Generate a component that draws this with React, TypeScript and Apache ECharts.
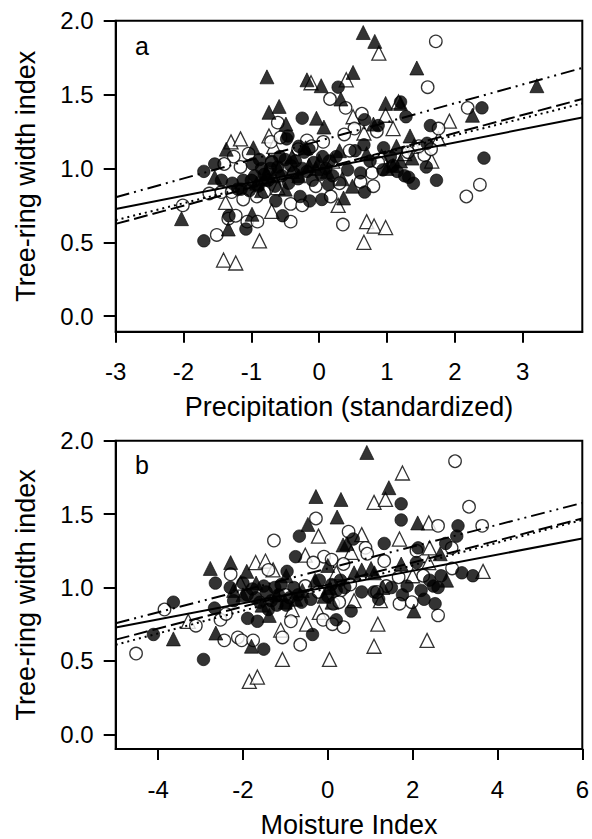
import React, { useEffect, useRef } from "react";
import * as echarts from "echarts";

type Pt = [number, number];

// Tick labels
const precipTicks = [-3, -2, -1, 0, 1, 2, 3];
const moistureTicks = [-4, -2, 0, 2, 4, 6];
const ringTicks = [0, 0.5, 1, 1.5, 2];

// Panel a: precipitation (standardized) vs tree-ring width index
const precipFilledCircle: Pt[] = [
  [0.28, 1.55], [1.2, 1.45], [2.4, 1.41], [1.28, 1.35], [-0.25, 1.34], [0.67, 1.33], [1.64, 1.29], [0.87, 1.29],
  [-0.46, 1.22], [0.66, 1.16], [1.59, 1.17], [2.43, 1.07], [1.58, 1.01], [1.73, 0.92], [1.39, 0.9], [1.26, 0.95],
  [0.94, 0.99], [0.67, 0.84], [0.61, 0.97], [0.04, 0.79], [-0.14, 0.78], [-0.28, 0.81], [-0.54, 0.68], [-0.64, 0.78],
  [-1.08, 0.59], [-1.33, 0.68], [-1.7, 0.51], [-1.7, 0.98], [-1.54, 1.03], [-1.44, 0.92], [-1.28, 0.9], [-1.15, 0.86],
  [-1.03, 0.85], [-0.98, 1.03], [-0.81, 0.96], [-0.61, 1.01], [-0.5, 1.06], [-0.42, 1.02], [-0.31, 0.93], [-0.22, 1.11],
  [-0.08, 1.04], [0.03, 0.96], [0.14, 0.89], [0.25, 1.08], [0.42, 0.99], [0.53, 1.12], [0.95, 1.14], [1.09, 1.02],
  [-0.9, 0.88], [-0.85, 1.0], [-0.75, 0.92], [-0.7, 1.05], [-0.55, 0.95], [-0.45, 0.9], [-0.35, 1.05], [-0.18, 0.98],
  [-0.1, 0.92], [0.1, 1.0], [0.2, 0.95], [-1.12, 0.92], [-1.2, 0.86], [0.75, 1.05], [1.05, 1.08], [1.15, 0.98],
  [1.32, 0.94], [-0.48, 1.2], [-0.3, 1.15], [-0.15, 1.13], [-0.95, 0.95], [-0.65, 0.88], [-0.58, 1.08], [-0.38, 0.97],
  [-0.25, 1.0], [0.05, 1.08], [0.15, 1.05], [-1.0, 0.92], [-0.88, 1.06], [-0.72, 1.0],
];
const precipOpenCircle: Pt[] = [
  [1.72, 1.86], [1.6, 1.55], [0.16, 1.47], [0.39, 1.41], [0.63, 1.37], [2.19, 1.41], [1.76, 1.27], [0.85, 1.25],
  [0.52, 1.27], [-0.61, 1.31], [0.37, 1.23], [-0.18, 1.19], [0.06, 1.18], [-0.71, 1.18], [-0.57, 1.21], [-1.04, 1.1],
  [-1.26, 1.08], [-1.4, 1.03], [-1.16, 1.01], [1.55, 1.09], [1.65, 1.13], [1.47, 1.15], [2.17, 0.81], [2.37, 0.89],
  [0.8, 0.88], [0.61, 0.91], [0.17, 0.81], [0.35, 0.62], [-0.42, 0.64], [-0.42, 0.76], [-0.25, 0.75], [-1.06, 0.64],
  [-0.91, 0.64], [-1.34, 0.66], [-1.23, 0.68], [-1.51, 0.55], [-2.01, 0.75], [-1.62, 0.83], [-1.44, 0.84], [-1.29, 0.84],
  [-1.12, 0.79], [-0.92, 0.81], [-0.81, 0.84], [-0.11, 1.15], [-0.31, 1.13], [0.87, 1.04], [0.78, 0.97], [1.31, 1.11],
  [-0.7, 1.04], [0.45, 1.12], [-0.05, 0.88], [0.3, 0.9],
];
const precipFilledTriangle: Pt[] = [
  [0.65, 1.92], [0.82, 1.86], [1.44, 1.68], [3.21, 1.56], [-0.77, 1.62], [-0.18, 1.6], [0.03, 1.56], [0.5, 1.65],
  [0.32, 1.47], [-0.74, 1.38], [-0.59, 1.42], [-0.49, 1.3], [-0.04, 1.34], [0.07, 1.28], [0.98, 1.44], [1.2, 1.44],
  [2.26, 1.36], [1.34, 1.22], [-1.37, 1.13], [-0.97, 1.14], [1.14, 1.15], [0.34, 0.93], [0.49, 0.88], [0.36, 0.8],
  [-2.03, 0.66], [-1.34, 0.59], [-0.99, 0.69], [-1.54, 0.94], [1.37, 1.07], [1.09, 1.02], [-0.81, 0.93], [-0.85, 0.85],
  [-0.78, 0.97], [-0.6, 1.0], [-0.4, 1.08], [-0.3, 0.95], [0.0, 1.05], [0.3, 1.12], [1.0, 1.0], [1.2, 1.05],
  [-0.05, 1.0], [0.7, 1.1], [-0.2, 1.14], [0.8, 1.3], [-0.92, 0.9], [-0.68, 0.95], [-0.15, 1.02], [0.12, 0.98],
  [-0.5, 0.86],
];
const precipOpenTriangle: Pt[] = [
  [0.88, 1.78], [0.4, 1.6], [-0.12, 1.58], [0.5, 1.35], [0.98, 1.36], [1.17, 1.45], [1.09, 1.27], [1.92, 1.32],
  [1.76, 1.2], [-1.3, 1.18], [-1.16, 1.2], [-0.74, 1.22], [-0.67, 1.15], [0.66, 1.24], [1.66, 1.05], [1.4, 1.15],
  [1.26, 1.1], [-1.38, 0.77], [-0.7, 0.71], [0.28, 0.75], [-0.88, 0.51], [-1.41, 0.38], [-1.23, 0.36], [0.66, 0.5],
  [0.7, 0.64], [0.81, 0.61], [0.98, 0.6], [-0.61, 0.87], [0.92, 1.08], [-0.4, 0.98], [0.2, 1.05],
];
const precipLineSolid: Pt[] = [[-3, 0.725], [3.88, 1.345]];
const precipLineDashed: Pt[] = [[-3, 0.625], [3.88, 1.47]];
const precipLineDotted: Pt[] = [[-3, 0.65], [3.88, 1.44]];
const precipLineDashDot: Pt[] = [[-3, 0.805], [3.88, 1.68]];

// Panel b: moisture index vs tree-ring width index
const moistFilledCircle: Pt[] = [
  [1.73, 1.57], [1.73, 1.46], [3.07, 1.42], [3.04, 1.35], [1.33, 1.3], [2.13, 1.27], [2.78, 1.3], [-0.67, 1.35],
  [0.6, 1.33], [-0.76, 1.21], [-0.96, 1.11], [2.09, 1.17], [3.16, 1.1], [3.42, 1.08], [2.67, 1.08], [1.87, 1.01],
  [2.2, 0.98], [2.49, 1.01], [2.6, 1.0], [2.27, 0.92], [2.53, 0.89], [1.76, 0.95], [1.09, 0.97], [0.8, 0.97],
  [0.55, 0.84], [0.2, 0.78], [-0.36, 0.68], [-1.51, 0.58], [-1.66, 0.77], [-1.89, 0.79], [-2.93, 0.51], [-4.11, 0.68],
  [-3.64, 0.9], [-2.65, 1.03], [-2.22, 0.91], [-2.67, 0.86], [-2.0, 1.03], [-1.78, 0.99], [-1.51, 1.01], [-1.33, 0.91],
  [-1.16, 0.95], [-0.98, 0.88], [-0.62, 0.9], [0.0, 0.94], [0.09, 1.02], [-1.4, 0.85], [-0.8, 1.0], [-1.7, 0.93],
  [-0.2, 1.05], [0.3, 1.05], [1.2, 0.92], [1.5, 1.0], [2.4, 1.05], [-1.25, 1.0], [-1.9, 0.95], [-1.6, 0.9],
  [-1.45, 0.97], [-1.1, 1.02], [-0.9, 0.93], [-0.7, 0.95], [-0.4, 0.92], [0.2, 0.98], [0.4, 1.0], [-2.3, 1.0],
  [-1.2, 0.88],
];
const moistOpenCircle: Pt[] = [
  [3.0, 1.86], [3.33, 1.55], [-0.28, 1.47], [-1.27, 1.32], [2.6, 1.42], [3.64, 1.42], [0.49, 1.38], [0.89, 1.27],
  [0.93, 1.23], [2.92, 1.27], [2.09, 1.25], [-0.09, 1.21], [0.09, 1.19], [-0.34, 1.17], [0.37, 1.16], [1.33, 1.18],
  [-2.29, 1.09], [-1.4, 1.12], [2.93, 1.13], [1.67, 1.07], [2.25, 1.08], [0.31, 0.98], [-0.22, 0.97], [-0.53, 1.01],
  [0.53, 1.02], [1.38, 1.01], [1.69, 0.89], [1.98, 0.9], [1.16, 0.97], [2.6, 0.81], [-3.85, 0.85], [-4.52, 0.55],
  [-3.11, 0.74], [-2.53, 0.78], [-2.44, 0.64], [-2.12, 0.66], [-2.03, 0.64], [-1.76, 0.64], [-1.07, 0.66], [-0.87, 0.77],
  [-0.65, 0.61], [-0.11, 0.78], [0.11, 0.75], [0.37, 0.73], [0.13, 0.89], [0.27, 0.9], [-2.4, 0.82], [-1.0, 0.95],
];
const moistFilledTriangle: Pt[] = [
  [0.92, 1.92], [1.44, 1.68], [-0.28, 1.62], [0.31, 1.6], [0.22, 1.48], [-0.47, 1.43], [2.12, 1.44], [0.36, 1.29],
  [-2.77, 1.13], [-2.29, 1.17], [-1.91, 1.11], [1.73, 1.16], [2.65, 1.23], [2.8, 1.05], [-3.64, 0.65], [-2.64, 0.69],
  [-1.8, 0.6], [-1.38, 0.81], [2.03, 0.84], [1.02, 1.13], [0.62, 1.1], [-0.09, 0.94], [-0.98, 1.08], [-2.22, 0.98],
  [-1.69, 1.03], [0.0, 1.15], [-0.6, 0.98], [-1.2, 0.95], [0.45, 1.3], [0.8, 1.12], [1.3, 1.0], [-0.3, 1.05],
  [0.1, 0.9], [1.1, 1.1], [-1.55, 0.88], [-1.0, 0.9], [-0.75, 0.92], [0.05, 1.0], [-2.0, 0.95],
];
const moistOpenTriangle: Pt[] = [
  [1.76, 1.78], [1.09, 1.58], [1.36, 1.6], [-0.22, 1.35], [0.8, 1.36], [2.38, 1.44], [1.69, 1.33], [2.4, 1.27],
  [0.55, 1.24], [-0.53, 1.22], [-1.7, 1.17], [-1.47, 1.18], [-1.29, 1.12], [3.66, 1.11], [2.38, 1.17], [2.0, 1.08],
  [0.62, 0.91], [1.24, 0.91], [-0.84, 0.85], [-1.11, 0.71], [1.18, 0.75], [1.09, 0.6], [2.34, 0.64], [-1.07, 0.51],
  [0.04, 0.51], [-1.85, 0.36], [-1.66, 0.39], [-3.29, 0.77], [-0.2, 0.83], [-2.06, 1.03], [-0.5, 0.75], [0.2, 1.1],
];
const moistLineSolid: Pt[] = [[-5, 0.728], [6, 1.334]];
const moistLineDashed: Pt[] = [[-5, 0.645], [6, 1.47]];
const moistLineDotted: Pt[] = [[-5, 0.61], [6, 1.46]];
const moistLineDashDot: Pt[] = [[-5, 0.757], [6, 1.576]];

const FONT = "Liberation Sans, Arial, sans-serif";

function xAxisCfg(gridIndex: number, min: number, max: number, ticks: number[], name: string) {
  return {
    type: "value" as const,
    gridIndex,
    min,
    max,
    name,
    nameLocation: "middle" as const,
    nameGap: 62,
    nameTextStyle: { fontSize: 27, color: "#000", fontFamily: FONT },
    axisLine: { show: true, onZero: false, lineStyle: { color: "#000", width: 2 } },
    axisTick: { show: true, inside: false, length: 11, customValues: ticks, lineStyle: { color: "#000", width: 2 } },
    axisLabel: { show: true, customValues: ticks, margin: 28, fontSize: 24, color: "#000", fontFamily: FONT, formatter: (v: number) => String(v) },
    splitLine: { show: false },
  };
}

function yAxisCfg(gridIndex: number, min: number) {
  return {
    type: "value" as const,
    gridIndex,
    min,
    max: 2,
    name: "Tree-ring width index",
    nameLocation: "middle" as const,
    nameGap: 76,
    nameTextStyle: { fontSize: 27, color: "#000", fontFamily: FONT },
    axisLine: { show: true, onZero: false, lineStyle: { color: "#000", width: 2 } },
    axisTick: { show: true, inside: false, length: 12, customValues: ringTicks, lineStyle: { color: "#000", width: 2 } },
    axisLabel: { show: true, customValues: ringTicks, margin: 22, fontSize: 24, color: "#000", fontFamily: FONT, formatter: (v: number) => v.toFixed(1) },
    splitLine: { show: false },
  };
}

function scatter(idx: number, data: Pt[], symbol: string, filled: boolean) {
  return {
    type: "scatter" as const,
    xAxisIndex: idx,
    yAxisIndex: idx,
    data,
    symbol,
    symbolSize: symbol === "triangle" ? 14 : 12.5,
    itemStyle: filled
      ? { color: "#000", borderColor: "#000", borderWidth: 0.8 }
      : { color: "#fff", borderColor: "#000", borderWidth: 1.3 },
    z: 2,
  };
}

function line(idx: number, data: Pt[], type: any) {
  return {
    type: "line" as const,
    xAxisIndex: idx,
    yAxisIndex: idx,
    data,
    symbol: "none",
    lineStyle: { color: "#000", width: 2, type },
    z: 5,
  };
}

export default function App() {
  const ref = useRef<HTMLDivElement>(null);
  useEffect(() => {
    document.body.style.margin = "0";
    const chart = echarts.init(ref.current!, undefined, { renderer: "svg" });
    const dashDotDot = [14, 5, 2, 5, 2, 5];
    chart.setOption({
      animation: false,
      backgroundColor: "#fff",
      grid: [
        { left: 115.7, right: 9.7, top: 20.7, height: 311, show: true, borderColor: "#000", borderWidth: 2, backgroundColor: "transparent" },
        { left: 115.7, right: 9.7, top: 440.7, height: 309.3, show: true, borderColor: "#000", borderWidth: 2, backgroundColor: "transparent" },
      ],
      xAxis: [
        xAxisCfg(0, -3, 3.88, precipTicks, "Precipitation (standardized)"),
        xAxisCfg(1, -5, 6, moistureTicks, "Moisture Index"),
      ],
      yAxis: [yAxisCfg(0, -0.105), yAxisCfg(1, -0.1)],
      graphic: [
        { type: "text", left: 135, top: 33, style: { text: "a", fontSize: 25, fill: "#000", fontFamily: FONT } },
        { type: "text", left: 135, top: 452, style: { text: "b", fontSize: 25, fill: "#000", fontFamily: FONT } },
      ],
      series: [
        scatter(0, precipOpenTriangle, "triangle", false),
        scatter(0, precipOpenCircle, "circle", false),
        scatter(0, precipFilledTriangle, "triangle", true),
        scatter(0, precipFilledCircle, "circle", true),
        line(0, precipLineSolid, "solid"),
        line(0, precipLineDashed, [14, 5]),
        line(0, precipLineDotted, [2, 4]),
        line(0, precipLineDashDot, dashDotDot),
        scatter(1, moistOpenTriangle, "triangle", false),
        scatter(1, moistOpenCircle, "circle", false),
        scatter(1, moistFilledTriangle, "triangle", true),
        scatter(1, moistFilledCircle, "circle", true),
        line(1, moistLineSolid, "solid"),
        line(1, moistLineDashed, [14, 5]),
        line(1, moistLineDotted, [2, 4]),
        line(1, moistLineDashDot, dashDotDot),
      ],
    });
    return () => chart.dispose();
  }, []);
  return <div ref={ref} style={{ width: 592, height: 839 }} />;
}
